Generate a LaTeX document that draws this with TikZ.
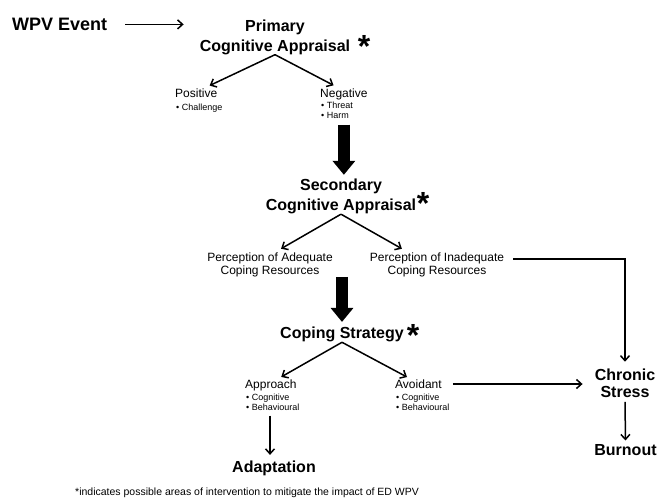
\documentclass[tikz,border=0pt]{standalone}
\usepackage{fontspec}
\setmainfont{Liberation Sans}
\usetikzlibrary{arrows.meta,calc}
\tikzset{
  % bold stages of the model
  stage/.style={font=\bfseries\fontsize{16}{20}\selectfont, align=center, inner sep=0pt},
  % plain outcomes of each stage
  subhead/.style={font=\fontsize{12}{13}\selectfont, align=center, inner sep=0pt},
  bullets/.style={font=\fontsize{9}{10}\selectfont, align=left, inner sep=0pt},
  star/.style={font=\bfseries\fontsize{32}{32}\selectfont, inner sep=0pt, anchor=base},
  thin arrow/.style={line width=1.5pt, -{Straight Barb[length=5pt,width=9pt]}},
  fat arrow/.style={line width=12pt, -{Triangle[length=14pt,width=22pt]}},
}

\begin{document}
\begin{tikzpicture}[x=1pt,y=-1pt]
    \useasboundingbox (0,0) rectangle (659,498);
    %\draw[step=50, gray, very thin] (0,0) grid (659,498);
    \node[stage, font=\bfseries\fontsize{18}{20}\selectfont, anchor=base west] (wpv) at (12,30.5) {WPV Event};
    \node[stage] (pca) at (275,37) {Primary\\Cognitive Appraisal};
    \node[star] (pstar) at (364,57.5) {*};
    \node[subhead, anchor=base west] (pos) at (175,97) {Positive};
    \node[bullets, anchor=north west] (posl) at (176,103.6) {• Challenge};
    \node[subhead, anchor=base west] (neg) at (320,97) {Negative};
    \node[bullets, anchor=north west] (negl) at (321,101.6) {• Threat\\• Harm};

    \node[stage] (sca) at (341,196.5) {Secondary\\Cognitive Appraisal};
    \node[star] (sstar) at (423,214) {*};
    \node[subhead] (ade) at (270,264.5) {Perception of Adequate\\Coping Resources};
    \node[subhead] (inad) at (437,264.5) {Perception of Inadequate\\Coping Resources};

    \node[stage, anchor=base] (cs) at (342,338.7) {Coping Strategy};
    \node[star] (cstar) at (413,346.5) {*};
    \node[subhead, anchor=base west] (apr) at (245,388.3) {Approach};
    \node[bullets, anchor=north west] (aprl) at (246,393.6) {• Cognitive\\• Behavioural};
    \node[subhead, anchor=base west] (avd) at (395,388.3) {Avoidant};
    \node[bullets, anchor=north west] (avdl) at (396,393.6) {• Cognitive\\• Behavioural};

    \node[stage, font=\bfseries\fontsize{16}{17}\selectfont] (chr) at (625,383.3) {Chronic\\Stress};
    \node[stage, anchor=base] (burn) at (625.5,455.7) {Burnout};
    \node[stage, anchor=base] (ada) at (274,472.7) {Adaptation};
    \node[anchor=base west, inner sep=0pt, font=\fontsize{10.5}{12}\selectfont] (note) at (75,495)
      {*indicates possible areas of intervention to mitigate the impact of ED WPV};

    \begin{scope}[thin arrow]
    \draw[shorten <=18pt, shorten >=16pt] (wpv.east) -- (wpv.east -| pca.west);
    \draw[shorten >=6pt] (pca.south) -- ([xshift=8pt]pos.north);
    \draw[shorten >=6pt] (pca.south) -- ([xshift=-5pt]neg.north);
    \draw[shorten >=7pt] (sca.south) -- ([xshift=5pt]ade.north);
    \draw[shorten >=7pt] (sca.south) -- ([xshift=-29pt]inad.north);
    \draw[shorten <=9pt, shorten >=7pt] ([yshift=5.5pt]inad.east) -| (chr.north);
    \draw[shorten >=5pt] (cs.south) -- ([xshift=6pt]apr.north);
    \draw[shorten >=5pt] (cs.south) -- ([xshift=-7pt]avd.north);
    \draw[shorten <=5pt, shorten >=6pt] ([xshift=-4pt]aprl.south -| ada.north) -- ([xshift=-4pt]ada.north);
    \draw[shorten <=11pt, shorten >=12pt] (avd.east) -- (avd.east -| chr.west);
    \draw[shorten <=4pt, shorten >=4pt] (chr.south) -- (burn.north);
    \end{scope}

    \begin{scope}[fat arrow]
    \draw[shorten <=25pt, shorten >=4pt] (neg.south) -- (neg.south |- sca.north);
    \draw[shorten >=5pt] (ade.south -| cs.north) -- (cs.north);
    \end{scope}
\end{tikzpicture}
\end{document}
